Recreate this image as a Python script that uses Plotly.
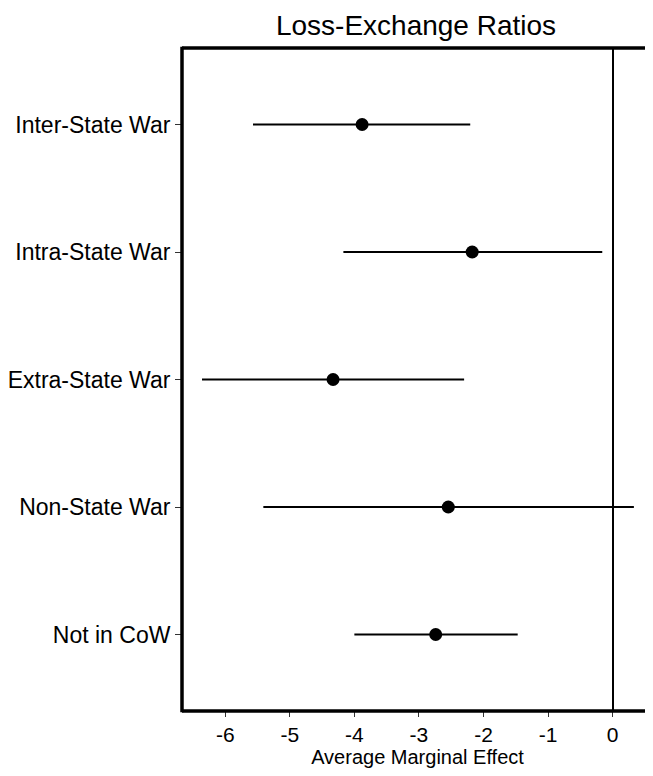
import plotly.graph_objects as go

categories = ["Inter-State War", "Intra-State War", "Extra-State War", "Non-State War", "Not in CoW"]
estimates = [-3.88, -2.175, -4.33, -2.545, -2.74]
ci_low = [-5.57, -4.17, -6.36, -5.41, -4.00]
ci_high = [-2.205, -0.16, -2.30, 0.33, -1.47]
x_ticks = [-6, -5, -4, -3, -2, -1, 0]

ypos = list(range(1, len(categories) + 1))
err_plus = [h - e for h, e in zip(ci_high, estimates)]
err_minus = [e - l for e, l in zip(estimates, ci_low)]

fig = go.Figure()
fig.add_trace(go.Scatter(
    x=estimates, y=ypos, mode="markers",
    marker=dict(color="black", size=13),
    error_x=dict(type="data", symmetric=False, array=err_plus, arrayminus=err_minus,
                 color="black", thickness=2, width=0),
    showlegend=False,
))

W, H = 645, 768
font = "Liberation Sans, Arial, Helvetica, sans-serif"
fig.update_layout(
    width=W, height=H,
    margin=dict(l=171, r=0, t=40, b=65),
    paper_bgcolor="white", plot_bgcolor="white",
    font=dict(family=font, color="black"),
    title=dict(text="Loss-Exchange Ratios", x=(171 + W) / 2 / W, xanchor="center",
               y=1 - 17 / H, yanchor="middle", font=dict(size=28, color="black")),
    xaxis=dict(range=[-6.67, 0.626], tickvals=x_ticks, ticktext=[str(v) for v in x_ticks],
               ticks="outside", ticklen=5, tickcolor="#333", tickwidth=1,
               showgrid=False, zeroline=True, zerolinecolor="black", zerolinewidth=2,
               showline=False, tickfont=dict(size=21, color="black"),
               title=dict(text="Average Marginal Effect", font=dict(size=20, color="black"), standoff=2)),
    yaxis=dict(range=[5.6, 0.4], tickvals=ypos, ticktext=categories,
               ticks="outside", ticklen=6, tickcolor="#333", tickwidth=1,
               showgrid=False, zeroline=False, showline=False,
               tickfont=dict(size=23, color="black")),
    shapes=[
        dict(type="line", xref="paper", yref="paper", x0=0, x1=0, y0=-0.002, y1=1.002,
             line=dict(color="black", width=3.5)),
        dict(type="line", xref="paper", yref="paper", x0=0, x1=1.01, y0=1, y1=1,
             line=dict(color="black", width=3.5)),
        dict(type="line", xref="paper", yref="paper", x0=0, x1=1.01, y0=0, y1=0,
             line=dict(color="black", width=3.5)),
    ],
)

fig.write_html("out.html")
